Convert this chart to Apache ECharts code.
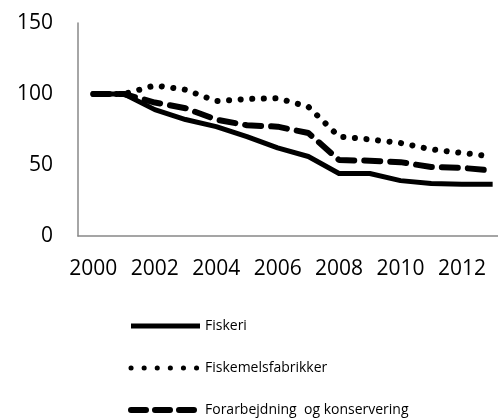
<!DOCTYPE html>
<html>
<head>
<meta charset="utf-8">
<script src="https://cdn.jsdelivr.net/npm/echarts@6/dist/echarts.min.js"></script>
<style>
  html, body { margin: 0; padding: 0; background: #fff; }
  #main { width: 498px; height: 420px; }
</style>
</head>
<body>
<div id="main"></div>
<script>
// år og indeks (2000 = 100)
var years = ['2000','2001','2002','2003','2004','2005','2006','2007','2008','2009','2010','2011','2012','2013'];
var fiskeri = [100, 100, 89, 82, 77, 70, 62, 56, 44, 44, 39, 37, 36.5, 36.5];
var fiskemel = [100, 100, 106, 103, 95, 96.5, 97, 91, 70, 68, 65.5, 61, 58.5, 56];
var forarb = [100, 100, 94, 90, 82, 78, 77, 72.5, 53.5, 53, 52, 48.6, 48, 46];
var yTicks = [0, 50, 100, 150];

window.onload = function() {
  var myChart = echarts.init(document.getElementById('main'));
  var font = '"Open Sans", sans-serif';

  var option = {
    backgroundColor: '#fff',
    animation: false,
    grid: { left: 78, top: 23, width: 430, height: 213, outerBoundsMode: 'none' },
    legend: {
      orient: 'vertical',
      left: 128,
      top: 319,
      padding: 0,
      itemWidth: 69,
      itemHeight: 14,
      itemGap: 28,
      itemStyle: { opacity: 0 },
      textStyle: { fontFamily: font, fontSize: 14, lineHeight: 14, color: '#000' },
      data: [
        { name: 'Fiskeri', lineStyle: { width: 5 } },
        { name: 'Fiskemelsfabrikker', lineStyle: { width: 5, type: [0.1, 13], cap: 'round' } },
        { name: 'Forarbejdning  og konservering', lineStyle: { width: 6, type: [15, 9], cap: 'round' } }
      ]
    },
    xAxis: {
      type: 'category',
      data: years,
      boundaryGap: true,
      axisLine: { lineStyle: { color: '#888', width: 1.5 } },
      axisTick: { show: false },
      axisLabel: {
        interval: 1,
        margin: 23,
        fontFamily: font,
        fontSize: 21,
        color: '#000'
      }
    },
    yAxis: {
      type: 'value',
      min: yTicks[0],
      max: yTicks[yTicks.length - 1],
      interval: 50,
      axisLine: { show: true, lineStyle: { color: '#888', width: 1.5 } },
      axisTick: { show: false },
      splitLine: { show: false },
      axisLabel: { margin: 25, fontFamily: font, fontSize: 21, color: '#000' }
    },
    series: [
      {
        name: 'Fiskeri',
        type: 'line',
        data: fiskeri,
        symbol: 'none',
        itemStyle: { color: '#000' },
        lineStyle: { color: '#000', width: 5, join: 'round' }
      },
      {
        name: 'Fiskemelsfabrikker',
        type: 'line',
        data: fiskemel,
        symbol: 'none',
        itemStyle: { color: '#000' },
        lineStyle: { color: '#000', width: 6, type: [0.1, 11.5], cap: 'round' }
      },
      {
        name: 'Forarbejdning  og konservering',
        type: 'line',
        data: forarb,
        symbol: 'none',
        itemStyle: { color: '#000' },
        lineStyle: { color: '#000', width: 6, type: [16, 10], cap: 'round' }
      }
    ]
  };
  myChart.setOption(option);
};
</script>
</body>
</html>
